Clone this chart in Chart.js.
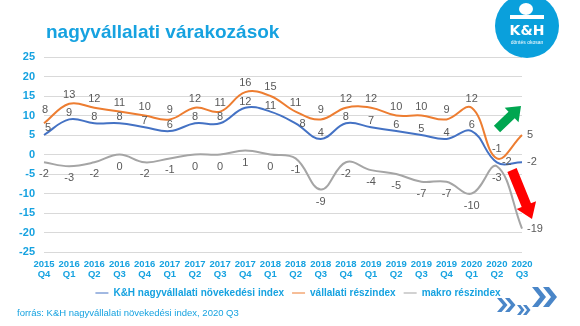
<!DOCTYPE html>
<html>
<head>
<meta charset="utf-8">
<script src="https://cdn.jsdelivr.net/npm/chart.js@4.4.0/dist/chart.umd.min.js"></script>
<style>
html, body { margin: 0; padding: 0; background: #fff; }
</style>
</head>
<body>
<canvas id="myChart" width="580" height="326"></canvas>
<script>
// quarters on the x axis
var years = ['2015', '2016', '2016', '2016', '2016', '2017', '2017', '2017', '2017', '2018',
	'2018', '2018', '2018', '2019', '2019', '2019', '2019', '2020', '2020', '2020'];
var quarters = ['Q4', 'Q1', 'Q2', 'Q3', 'Q4', 'Q1', 'Q2', 'Q3', 'Q4', 'Q1',
	'Q2', 'Q3', 'Q4', 'Q1', 'Q2', 'Q3', 'Q4', 'Q1', 'Q2', 'Q3'];

var growthIndex = [5, 9, 8, 8, 7, 6, 8, 8, 12, 11, 8, 4, 8, 7, 6, 5, 4, 6, -2, -2]; // K&H nagyvállalati növekedési index
var companyIndex = [8, 13, 12, 11, 10, 9, 12, 11, 16, 15, 11, 9, 12, 12, 10, 10, 9, 12, -1, 5]; // vállalati részindex
var macroIndex = [-2, -3, -2, 0, -2, -1, 0, 0, 1, 0, -1, -9, -2, -4, -5, -7, -7, -10, -3, -19]; // makro részindex

var yTicks = [-25, -20, -15, -10, -5, 0, 5, 10, 15, 20, 25];

var blueText = '#16a2e0';
var fontFamily = '"Liberation Sans", Arial, sans-serif';

var labels = years.map(function (y, i) { return [y, quarters[i]]; });

// value labels next to every point
var valueLabels = {
	id: 'valueLabels',
	afterDatasetsDraw: function (chart) {
		var ctx = chart.ctx;
		ctx.save();
		ctx.font = '11px ' + fontFamily;
		ctx.fillStyle = '#595959';
		ctx.textBaseline = 'middle';
		chart.data.datasets.forEach(function (ds, d) {
			var meta = chart.getDatasetMeta(d);
			meta.data.forEach(function (pt, i) {
				var dx = 0, dy = ds.labelDy;
				ctx.textAlign = 'center';
				if (i === ds.data.length - 1) {
					dx = 5; dy = 0;
					ctx.textAlign = 'left';
				} else if (ds.nudge && ds.nudge[i]) {
					dx = ds.nudge[i][0]; dy = ds.nudge[i][1];
				}
				ctx.fillText(String(ds.data[i]), pt.x + dx, pt.y + dy);
			});
		});
		ctx.restore();
	}
};

function arrow(ctx, x1, y1, x2, y2, shaft, head, headLen, color) {
	var a = Math.atan2(y2 - y1, x2 - x1);
	var len = Math.hypot(x2 - x1, y2 - y1);
	ctx.save();
	ctx.translate(x1, y1);
	ctx.rotate(a);
	ctx.beginPath();
	ctx.moveTo(0, -shaft / 2);
	ctx.lineTo(len - headLen, -shaft / 2);
	ctx.lineTo(len - headLen, -head / 2);
	ctx.lineTo(len, 0);
	ctx.lineTo(len - headLen, head / 2);
	ctx.lineTo(len - headLen, shaft / 2);
	ctx.lineTo(0, shaft / 2);
	ctx.closePath();
	ctx.fillStyle = color;
	ctx.fill();
	ctx.restore();
}

function chevrons(ctx, x, y, h, d, t, step) {
	ctx.fillStyle = '#4a86c8';
	for (var k = 0; k < 2; k++) {
		var cx = x + k * step;
		ctx.beginPath();
		ctx.moveTo(cx, y);
		ctx.lineTo(cx + t, y);
		ctx.lineTo(cx + t + d, y + h / 2);
		ctx.lineTo(cx + t, y + h);
		ctx.lineTo(cx, y + h);
		ctx.lineTo(cx + d, y + h / 2);
		ctx.closePath();
		ctx.fill();
	}
}

// title, source, logo and decorations
var extras = {
	id: 'extras',
	afterLayout: function (chart) {
		// legend sits a bit right of centre in the original
		var lg = chart.legend;
		var shift = 298 - (lg.left + lg.right) / 2;
		lg.left += shift;
		lg.right += shift;
	},
	afterDraw: function (chart) {
		var ctx = chart.ctx;
		ctx.save();
		ctx.fillStyle = blueText;
		ctx.font = 'bold 19px ' + fontFamily;
		ctx.textAlign = 'left';
		ctx.textBaseline = 'alphabetic';
		ctx.fillText('nagyvállalati várakozások', 46, 38);

		ctx.font = '9.5px ' + fontFamily;
		ctx.textBaseline = 'middle';
		ctx.fillText('forrás: K&H nagyvállalati növekedési index, 2020 Q3', 17, 313);

		// logo
		ctx.beginPath();
		ctx.arc(527, 26, 32, 0, Math.PI * 2);
		ctx.fillStyle = '#0aa0dc';
		ctx.fill();
		ctx.fillStyle = '#fff';
		ctx.beginPath();
		ctx.ellipse(526, 9, 7, 6, 0, 0, Math.PI * 2);
		ctx.fill();
		ctx.fillRect(510, 15, 34, 4);
		ctx.font = 'bold 14px "DejaVu Sans", sans-serif';
		ctx.textAlign = 'center';
		ctx.fillText('K&H', 527, 31);
		ctx.font = '5px ' + fontFamily;
		ctx.fillText('döntés okosan', 527, 43);

		arrow(ctx, 497, 129, 521, 106, 9, 20, 13, '#00a650');
		arrow(ctx, 512, 170, 532, 219, 10, 21, 15, '#ff0000');

		chevrons(ctx, 532, 287, 20, 8, 6, 11);
		chevrons(ctx, 497, 298, 14, 6, 4.5, 8);
		chevrons(ctx, 517, 305, 10, 4, 3.5, 6);
		ctx.restore();
	}
};

Chart.defaults.font.family = fontFamily;

var ctx = document.getElementById('myChart').getContext('2d');
var myLineChart = new Chart(ctx, {
	type: 'line',
	data: {
		labels: labels,
		datasets: [{
			label: 'K&H nagyvállalati növekedési index',
			data: growthIndex,
			borderColor: '#4472c4',
			backgroundColor: '#4472c4',
			labelDy: -6,
			nudge: { 0: [4, -7], 10: [7, 1], 18: [10, 0] }
		},
		{
			label: 'vállalati részindex',
			data: companyIndex,
			borderColor: '#ed7d31',
			backgroundColor: '#ed7d31',
			labelDy: -9,
			nudge: { 0: [1, -13] }
		},
		{
			label: 'makro részindex',
			data: macroIndex,
			borderColor: '#a5a5a5',
			backgroundColor: '#a5a5a5',
			labelDy: 12
		}]
	},
	options: {
		responsive: false,
		animation: false,
		devicePixelRatio: 1,
		layout: { padding: { top: 57, right: 58, bottom: 18, left: 0 } },
		elements: {
			line: { borderWidth: 2, tension: 0.4, fill: false },
			point: { radius: 0, hoverRadius: 0 }
		},
		scales: {
			x: {
				offset: false,
				grid: { display: false, drawTicks: false },
				border: { display: false },
				ticks: {
					color: blueText,
					font: { size: 9.5, weight: 'bold', lineHeight: 1.1 },
					padding: 7,
					maxRotation: 0,
					autoSkip: false
				},
				afterFit: function (scale) { scale.height = 28; }
			},
			y: {
				min: -25,
				max: 25,
				afterBuildTicks: function (scale) {
					scale.ticks = yTicks.map(function (v) { return { value: v }; });
				},
				grid: { color: '#d9d9d9', lineWidth: 1, drawTicks: false },
				border: { display: false },
				ticks: {
					color: blueText,
					font: { size: 11, weight: 'bold' },
					padding: 9
				},
				afterFit: function (scale) { scale.width = 44; }
			}
		},
		plugins: {
			legend: {
				position: 'bottom',
				labels: {
					color: blueText,
					font: { size: 10, weight: 'bold' },
					usePointStyle: true,
					pointStyle: 'line',
					pointStyleWidth: 13,
					padding: 8
				}
			},
			tooltip: { enabled: false }
		}
	},
	plugins: [valueLabels, extras]
});
</script>
</body>
</html>
